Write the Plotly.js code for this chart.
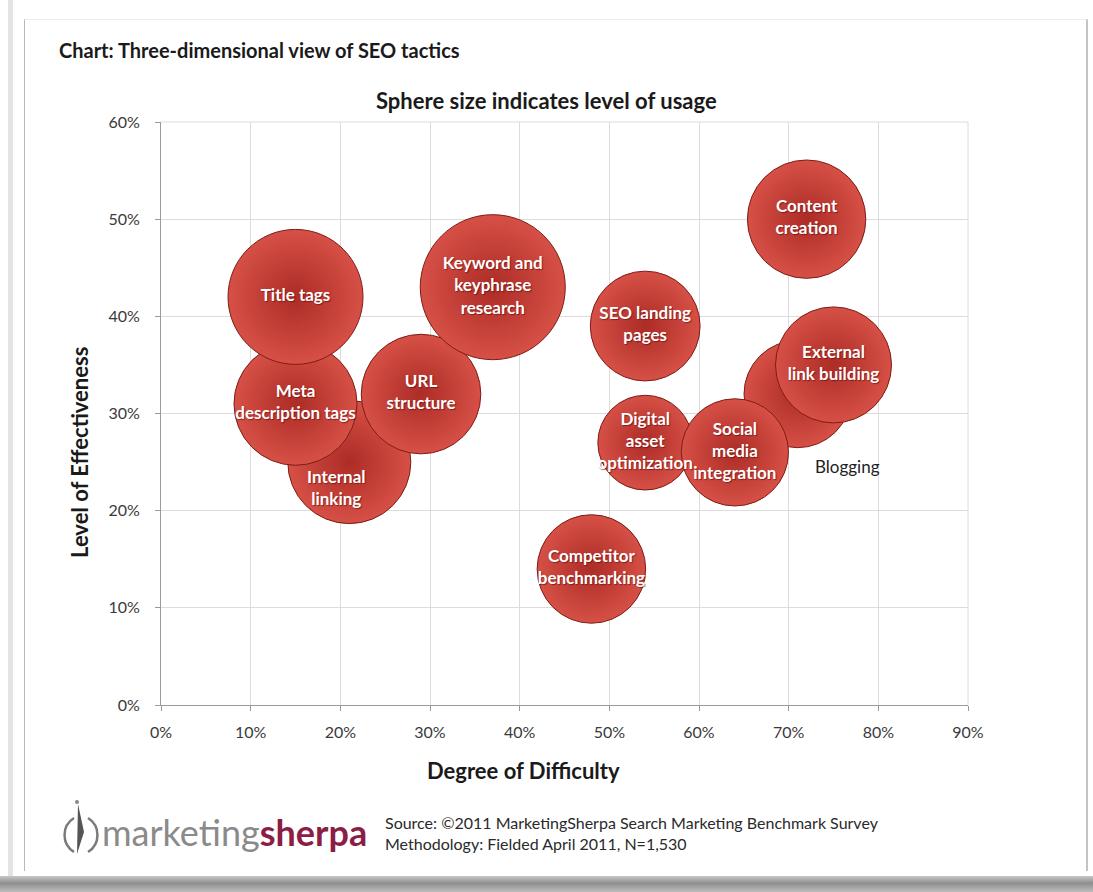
<!DOCTYPE html>
<html>
<head>
<meta charset="utf-8">
<script src="https://cdn.plot.ly/plotly-3.0.1.min.js"></script>
<style>
  html, body { margin:0; padding:0; width:1093px; height:892px; background:#ffffff; overflow:hidden; }
  #leftband { position:absolute; left:8px; top:0; width:5px; height:876px; background:#e4e4e4; }
  #card { position:absolute; left:24px; top:19px; width:1061px; height:851px; background:#fff;
          border-left:1px solid #b8b8b8; border-top:1px solid #ececec; border-right:2px solid #c4c4c4; }
  #bottomband { position:absolute; left:0; top:876px; width:1093px; height:16px;
          background:linear-gradient(#c8c8c8, #8e8e8e 45%, #bdbdbd); }
  #chart { position:absolute; left:0; top:0; width:1093px; height:892px; }
  #icon { position:absolute; left:58px; top:796px; width:48px; height:60px; pointer-events:none; }
</style>
</head>
<body>
<div id="leftband"></div>
<div id="card"></div>
<div id="bottomband"></div>
<div id="chart"></div>
<svg id="icon" viewBox="0 0 48 60">
  <path d="M16 22 A20 20 0 0 0 16 56" fill="none" stroke="#7a7a7a" stroke-width="2.5"/>
  <path d="M30 22 A20 20 0 0 1 30 56" fill="none" stroke="#7a7a7a" stroke-width="2.5"/>
  <path d="M20 8 L26 36 L19 58 Z" fill="#555"/>
  <circle cx="19" cy="6" r="2" fill="#888"/>
</svg>
<script>
// ---- data ----
const tactics = ["Internal linking", "URL structure", "Meta description tags", "Title tags",
  "Keyword and keyphrase research", "Competitor benchmarking", "Blogging",
  "Digital asset optimization", "Social media integration", "SEO landing pages",
  "External link building", "Content creation"];
const labels = ["", "URL<br>structure", "Meta<br>description tags", "Title tags",
  "Keyword and<br>keyphrase<br>research", "Competitor<br>benchmarking", "",
  "Digital<br>asset<br>optimization", "Social<br>media<br>integration", "SEO landing<br>pages",
  "External<br>link building", "Content<br>creation"];
const difficulty    = [21, 29, 15, 15, 37, 48, 71, 54, 64, 54, 75, 72];   // % (x)
const effectiveness = [25, 32, 31, 42, 43, 14, 32, 27, 26, 39, 35, 50];   // % (y)
const usage         = [54, 51, 54, 65, 75, 42, 41, 32, 41, 43, 48, 50];   // % (sphere size)
const xTicks = [0, 10, 20, 30, 40, 50, 60, 70, 80, 90];
const yTicks = [0, 10, 20, 30, 40, 50, 60];

const sizeRef = 2 * 65 / (135 * 135);
const FONT = "Lato, 'Open Sans', 'DejaVu Sans', sans-serif";
const LBL = { family: FONT, size: 17, color: "#ffffff", weight: "bold",
              shadow: "1px 1px 1px rgba(90,0,0,0.55)" };

const trace = {
  type: "scatter",
  mode: "markers+text",
  x: difficulty,
  y: effectiveness,
  text: labels,
  hovertext: tactics,
  textposition: "middle center",
  textfont: LBL,
  marker: {
    size: usage,
    sizemode: "area",
    sizeref: sizeRef,
    color: "rgb(214,80,70)",
    opacity: 1,
    gradient: { type: "radial", color: "rgb(172,44,38)" },
    line: { color: "rgb(125,28,22)", width: 1 }
  },
  cliponaxis: false,
  showlegend: false
};

const iInternal = tactics.indexOf("Internal linking");
const iBlog = tactics.indexOf("Blogging");

const layout = {
  width: 1093, height: 892,
  margin: { l: 161, r: 125, t: 122, b: 187 },
  paper_bgcolor: "rgba(0,0,0,0)",
  plot_bgcolor: "#ffffff",
  font: { family: FONT, color: "#333" },
  xaxis: {
    range: [0, 90], tickmode: "array", tickvals: xTicks, ticktext: xTicks.map(v => v + "%"),
    showgrid: true, gridcolor: "#dcdcdc", gridwidth: 1,
    zeroline: false, showline: true, linecolor: "#9a9a9a", linewidth: 1,
    ticks: "outside", ticklen: 5, tickcolor: "#9a9a9a",
    tickfont: { family: FONT, size: 16, color: "#3a3a3a" },
    ticklabelstandoff: 8, fixedrange: true
  },
  yaxis: {
    range: [0, 60], tickmode: "array", tickvals: yTicks, ticktext: yTicks.map(v => v + "%"),
    showgrid: true, gridcolor: "#dcdcdc", gridwidth: 1,
    zeroline: false, showline: true, linecolor: "#9a9a9a", linewidth: 1,
    ticks: "outside", ticklen: 5, tickcolor: "#9a9a9a",
    tickfont: { family: FONT, size: 16, color: "#3a3a3a" },
    ticklabelstandoff: 12, fixedrange: true
  },
  shapes: [
    { type: "line", xref: "paper", yref: "paper", x0: 1, x1: 1, y0: 0, y1: 1,
      line: { color: "#dcdcdc", width: 1 } },
    { type: "line", xref: "paper", yref: "paper", x0: 0, x1: 1, y0: 1, y1: 1,
      line: { color: "#dcdcdc", width: 1 } }
  ],
  annotations: [
    { text: "<b>Chart: Three-dimensional view of SEO tactics</b>", xref: "paper", yref: "paper",
      x: -0.1289, y: 1.1235, xanchor: "left", yanchor: "middle", showarrow: false,
      font: { family: FONT, size: 20, color: "#1a1a1a" } },
    { text: "<b>Sphere size indicates level of usage</b>", xref: "paper", yref: "paper",
      x: 0.4783, y: 1.0377, xanchor: "center", yanchor: "middle", showarrow: false,
      font: { family: FONT, size: 22, color: "#1a1a1a" } },
    { text: "<b>Degree of Difficulty</b>", xref: "paper", yref: "paper",
      x: 0.4486, y: -0.1115, xanchor: "center", yanchor: "middle", showarrow: false,
      font: { family: FONT, size: 22, color: "#1a1a1a" } },
    { text: "<b>Level of Effectiveness</b>", xref: "paper", yref: "paper", textangle: -90,
      x: -0.1004, y: 0.434, xanchor: "center", yanchor: "middle", showarrow: false,
      font: { family: FONT, size: 22, color: "#1a1a1a" } },
    { text: "Internal<br>linking", xref: "x", yref: "y",
      x: difficulty[iInternal], y: effectiveness[iInternal], xshift: -13, yshift: -25,
      showarrow: false, font: LBL },
    { text: "Blogging", xref: "x", yref: "y",
      x: difficulty[iBlog], y: effectiveness[iBlog], xshift: 50, yshift: -72,
      showarrow: false, font: { family: FONT, size: 17, color: "#222" } },
    { text: "Source: ©2011 MarketingSherpa Search Marketing Benchmark Survey", xref: "paper", yref: "paper",
      x: 0.2751, y: -0.2024, xanchor: "left", yanchor: "middle", showarrow: false,
      font: { family: FONT, size: 16, color: "#2a2a2a" } },
    { text: "Methodology: Fielded April 2011, N=1,530", xref: "paper", yref: "paper",
      x: 0.2751, y: -0.2384, xanchor: "left", yanchor: "middle", showarrow: false,
      font: { family: FONT, size: 16, color: "#2a2a2a" } },
    { text: "<span style='color:#8a8a8a'>marketing</span><span style='color:#8c1d45;font-weight:bold'>sherpa</span>",
      xref: "paper", yref: "paper", x: -0.0756, y: -0.218, xanchor: "left", yanchor: "middle",
      showarrow: false, font: { family: FONT, size: 36, color: "#8a8a8a" } }
  ]
};

Plotly.newPlot("chart", [trace], layout, { displayModeBar: false, staticPlot: true });
</script>
</body>
</html>
